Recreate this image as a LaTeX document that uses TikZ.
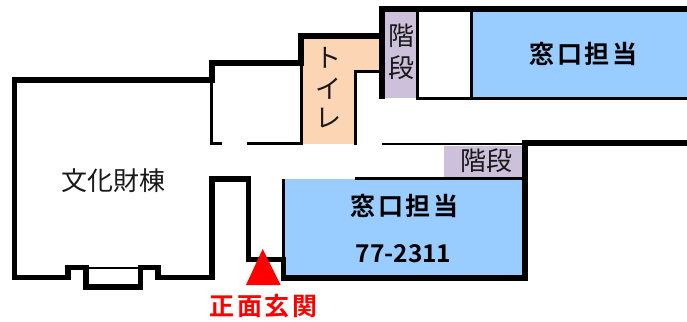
\documentclass[tikz,border=0pt]{standalone}
\usepackage{fontspec}
\setmainfont{Noto Sans CJK JP}
\newfontfamily\cjkb{Noto Sans CJK JP Bold}
\newcommand{\wallrect}[4]{\fill[wallfill] (#1,#2) rectangle (#3,#4);}
\definecolor{roomblue}{HTML}{99CCFF}
\definecolor{stairpurple}{HTML}{CCC0DA}
\definecolor{wcorange}{HTML}{FCD5B4}
\definecolor{entrancered}{HTML}{FF0000}
\tikzset{
  wallfill/.style={fill=black},
  lbl/.style={inner sep=0pt,font=\fontsize{26}{27}\selectfont,text=black!90},
  lblb/.style={inner sep=0pt,font=\cjkb\fontsize{25}{26}\selectfont,text=black},
}
\begin{document}
\begin{tikzpicture}[x=1pt,y=-1pt]
\useasboundingbox (0,0) rectangle (687,321);
% coloured rooms
\fill[stairpurple] (385,12) rectangle (416,98);
\fill[stairpurple] (444,146) rectangle (522,177);
\fill[wcorange] (303,39) rectangle (354,144);
\fill[wcorange] (354,39) rectangle (379,70);
\fill[roomblue] (473,12) rectangle (687,97);
\fill[roomblue] (285,179) rectangle (522,275);
% thick walls: outer left block
\wallrect{12}{77}{215}{83}
\wallrect{12}{77}{17}{280}
\wallrect{12}{275}{70.7}{280}
\wallrect{65}{265}{70.7}{280}
\wallrect{65}{265}{89}{270}
\wallrect{83}{265}{89}{289.5}
\wallrect{83}{284}{142.7}{289.5}
\wallrect{137.5}{265}{142.7}{289.5}
\wallrect{89}{266.7}{137.5}{269}
\wallrect{137.5}{265}{160.7}{270}
\wallrect{155}{265}{160.7}{280}
\wallrect{155}{275}{214.7}{280}
\wallrect{209}{176}{214.7}{280}
\wallrect{209}{176}{250.7}{181.7}
\wallrect{245.5}{176}{250.7}{262}
\wallrect{245.5}{257}{286}{262}
\wallrect{281}{257}{286}{280.5}
\wallrect{281}{275}{528}{280.5}
\wallrect{522}{140}{528}{280.5}
\wallrect{522}{140}{687}{146}
% thick walls: top
\wallrect{209}{60}{215}{83}
\wallrect{209}{60}{304}{66}
\wallrect{298}{33}{304}{66}
\wallrect{298}{33}{385}{39}
\wallrect{379}{6}{385}{99}
\wallrect{379}{6}{687}{12}
% thin walls
\wallrect{416}{12}{418.7}{99.7}
\wallrect{470.3}{12}{473}{99.7}
\wallrect{416}{97}{687}{99.7}
\wallrect{354}{70}{379}{72.7}
\wallrect{354}{70}{356.7}{144.7}
\wallrect{300.3}{66}{303}{144.7}
\wallrect{210}{83}{212.7}{144.7}
\wallrect{210}{142}{222}{144.7}
\wallrect{247}{142}{303}{144.7}
\wallrect{382}{142.5}{522}{145.2}
\wallrect{355}{177}{522}{179.7}
\wallrect{282}{179}{285}{257}
% entrance marker
\fill[entrancered] (262.7,249) -- (280.7,285) -- (246,285) -- cycle;
% labels
\node[lbl] (bunka) at (113.5,181) {文化財棟};
\node[lblb] (madoA) at (583.5,54) {窓\kern2.5pt 口\kern2.5pt 担\kern2.5pt 当};
\node[lblb] (madoB) at (404.5,205.5) {窓\kern2.5pt 口\kern2.5pt 担\kern2.5pt 当};
\node[lblb,font=\cjkb\fontsize{24.5}{26}\selectfont] (tel) at (403.5,254) {77-2311};
\node[lbl] (wcA) at (328,58) {ト};
\node[lbl] (wcB) at (328,89) {イ};
\node[lbl] (wcC) at (328,118) {レ};
\node[lbl] (kaiA) at (401,36) {階};
\node[lbl] (danA) at (401,68) {段};
\node[lbl] (kaidan) at (486,161) {階段};
\node[lblb,text=entrancered] (genkan) at (263.5,306) {正\kern2.5pt 面\kern2.5pt 玄\kern2.5pt 関};
\end{tikzpicture}
\end{document}
